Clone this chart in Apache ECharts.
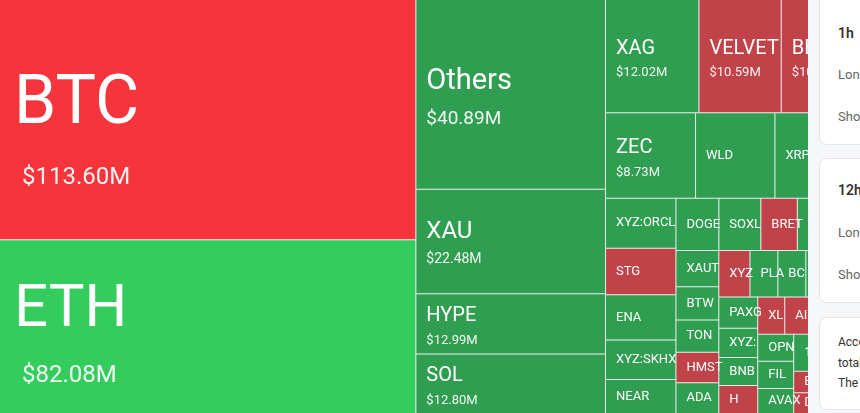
<!DOCTYPE html>
<html>
<head>
<meta charset="utf-8">
<script src="https://cdn.jsdelivr.net/npm/echarts@6.0.0/dist/echarts.min.js"></script>
<style>
  html, body { margin: 0; padding: 0; width: 860px; height: 413px; overflow: hidden; background: #fff; }
  #chart { position: absolute; left: 0; top: 0; width: 860px; height: 413px; }
  #side { position: absolute; left: 808px; top: 0; width: 300px; height: 413px; background: #f6f7f8;
          font-family: Roboto, 'Noto Sans', sans-serif; }
  .card { position: absolute; left: 11px; width: 260px; background: #fff; border: 1px solid #e4e6e9;
          border-radius: 8px; box-sizing: border-box; }
  .card div { position: absolute; left: 18px; white-space: nowrap; line-height: 20px; }
  .t { font-size: 14px; font-weight: 600; color: #333; }
  .r { font-size: 13px; color: #666; }
  .p { font-size: 12px; color: #333; }
</style>
</head>
<body>
<div id="chart"></div>
<div id="side">
  <div class="card" style="top:-12px;height:157px">
    <div class="t" style="top:34px">1h</div>
    <div class="r" style="top:76px">Long</div>
    <div class="r" style="top:118px">Short</div>
  </div>
  <div class="card" style="top:158px;height:145px">
    <div class="t" style="top:21px">12h</div>
    <div class="r" style="top:64px">Long</div>
    <div class="r" style="top:106px">Short</div>
  </div>
  <div class="card" style="top:317px;height:93px">
    <div class="p" style="top:14px">According to the data, in the past 24 hours,</div>
    <div class="p" style="top:35px">total liquidations came to $404.68M.</div>
    <div class="p" style="top:55px">The largest single liquidation order</div>
  </div>
</div>
<script>
// order as drawn (sort is off), values in $M
const names = ['BTC', 'ETH', 'Others', 'XAU', 'HYPE', 'SOL', 'XAG', 'VELVET', 'BERA', 'ZEC',
  'WLD', 'XRP', 'XYZ:ORCL', 'STG', 'ENA', 'XYZ:SKHX', 'NEAR', 'DOGE', 'SOXL', 'BRETT',
  'CRV', 'LINK', 'XAUT', 'BTW', 'TON', 'HMSTR', 'ADA', 'XYZ:TSLA', 'PLAY', 'BCH',
  'SUI', 'LTC', 'PAXG', 'XYZ:SMSN', 'BNB', 'H', 'XLM', 'AIXBT', 'PUMP', 'TRUMP',
  'OPN', 'FIL', 'AVAX', '1000PEPE', 'WIF', 'UNI', 'EIGEN', 'DOT', 'APT', 'ARB']
const values = [113.60, 82.08, 40.89, 22.48, 12.99, 12.80, 12.02, 10.59, 10.20, 8.73,
  7.70, 8.30, 3.99, 3.72, 3.61, 3.17, 2.71, 2.55, 2.49, 2.17,
  1.90, 1.85, 1.76, 1.62, 1.57, 1.48, 1.50, 1.64, 1.47, 1.47,
  1.45, 1.43, 1.38, 1.29, 1.24, 1.24, 1.14, 1.10, 1.06, 1.04,
  1.11, 1.11, 1.02, 0.95, 0.94, 0.93, 0.90, 0.88, 0.72, 0.70]
// which side was liquidated more
const sides = ['long', 'short', 'short', 'short', 'short', 'short', 'short', 'long', 'long', 'short',
  'short', 'short', 'short', 'long', 'short', 'short', 'short', 'short', 'short', 'long',
  'short', 'short', 'short', 'short', 'short', 'long', 'short', 'long', 'short', 'short',
  'short', 'short', 'short', 'short', 'short', 'long', 'long', 'long', 'short', 'short',
  'short', 'short', 'short', 'short', 'short', 'short', 'long', 'long', 'short', 'short']

function colorOf(side, v) {
  if (v >= 50) return side === 'long' ? '#f5353b' : '#33cc5d'
  return side === 'long' ? '#c0434a' : '#2f9e51'
}

function tier(v) {
  if (v >= 100) return 1
  if (v >= 60) return 2
  if (v >= 30) return 3
  if (v >= 20) return 4
  if (v >= 8.5) return 5
  return 6
}

const font = 'Roboto'
const nameStyle = (size, lh, pad) => ({
  fontFamily: font, color: '#fff', fontSize: size, lineHeight: lh, padding: [0, 0, 0, pad || 0]
})
const valStyle = (size, lh, pad) => ({
  fontFamily: font, color: 'rgba(255,255,255,0.92)', fontSize: size, lineHeight: lh, padding: [0, 0, 0, pad || 0]
})
const rich = {
  n1: nameStyle(68, 104, 4), v1: valStyle(24, 40, 12),
  n2: nameStyle(60, 91, 4), v2: valStyle(24, 40, 12),
  n3: nameStyle(29, 50), v3: valStyle(19, 26),
  n4: nameStyle(24, 35), v4: valStyle(14, 20),
  n5: nameStyle(20, 30), v5: valStyle(13, 19),
  s: nameStyle(13, 18)
}
// height used to centre each tier's text block in its cell
const blockHeight = { n1: 132, n2: 123, n3: 76, n4: 55, n5: 45, s: 18 }

const chart = echarts.init(document.getElementById('chart'))
chart.setOption({
  animation: false,
  series: [{
    type: 'treemap',
    left: 0,
    top: 0,
    right: 0,
    bottom: 0,
    sort: false,
    squareRatio: 1.55,
    roam: false,
    nodeClick: false,
    breadcrumb: { show: false },
    emphasis: { disabled: true },
    levels: [{
      itemStyle: { borderWidth: 0, gapWidth: 1, borderColor: '#e3ebe5' }
    }],
    itemStyle: { borderWidth: 0 },
    label: {
      show: true,
      position: 'insideLeft',
      distance: 10,
      padding: [0, 2, 0, 0],
      overflow: 'truncate',
      ellipsis: '',
      color: '#fff',
      fontFamily: font,
      formatter: function(p) {
        const v = Number(p.value)
        const t = tier(v)
        if (t === 6) return '{s|' + p.name + '}'
        return '{n' + t + '|' + p.name + '}\n{v' + t + '|$' + v.toFixed(2) + 'M}'
      },
      rich: rich
    },
    labelLayout: function(params) {
      const m = /\{(\w+)\|/.exec(params.text || '')
      const h = m ? blockHeight[m[1]] : 18
      return { dy: Math.max(0, (params.rect.height - h) / 2) }
    },
    data: names.map((n, i) => ({
      name: n,
      value: values[i],
      itemStyle: { color: colorOf(sides[i], values[i]) }
    }))
  }]
})
</script>
</body>
</html>
